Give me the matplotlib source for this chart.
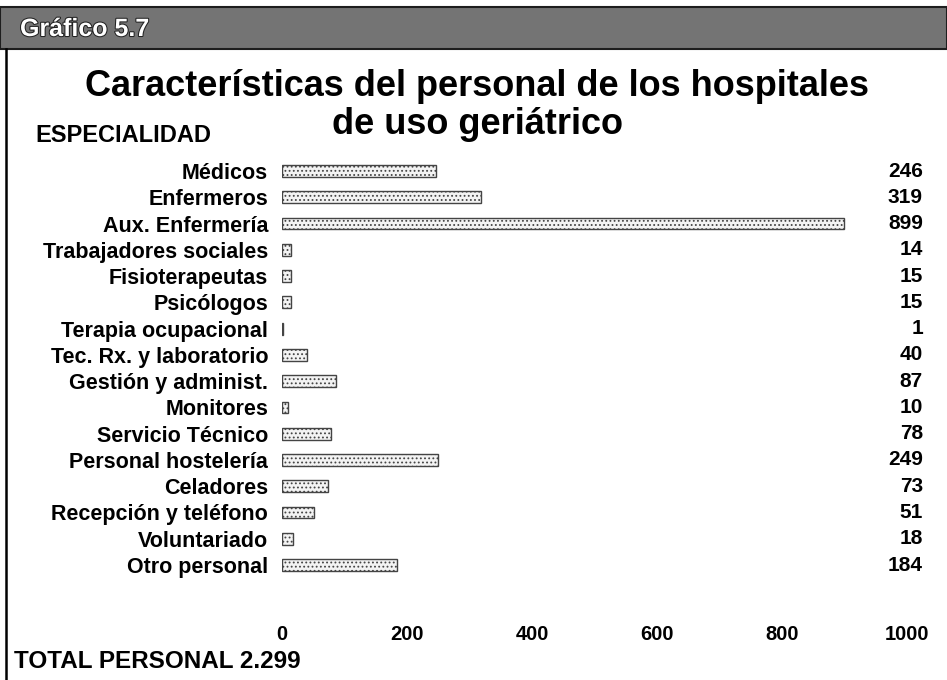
import matplotlib.pyplot as plt
from matplotlib.patches import Rectangle
from matplotlib.lines import Line2D
import matplotlib.transforms as mtransforms
import matplotlib.patheffects as pe

plt.rcParams['font.family'] = ['Liberation Sans', 'DejaVu Sans']
plt.rcParams['hatch.color'] = '#a0a0a0'
plt.rcParams['hatch.linewidth'] = 0.8

# Personal por especialidad
especialidades = [
    'Médicos', 'Enfermeros', 'Aux. Enfermería', 'Trabajadores sociales',
    'Fisioterapeutas', 'Psicólogos', 'Terapia ocupacional',
    'Tec. Rx. y laboratorio', 'Gestión y administ.', 'Monitores',
    'Servicio Técnico', 'Personal hostelería', 'Celadores',
    'Recepción y teléfono', 'Voluntariado', 'Otro personal',
]
personal = [246, 319, 899, 14, 15, 15, 1, 40, 87, 10, 78, 249, 73, 51, 18, 184]
ticks_x = [0, 200, 400, 600, 800, 1000]
total = '2.299'

W, H = 947, 680
fig = plt.figure(figsize=(W / 100, H / 100), dpi=100)

# cabecera gris con el número de gráfico
fig.patches.append(Rectangle((0, 1 - 49 / H), 1, 42 / H, transform=fig.transFigure,
                             facecolor='#747474', edgecolor='#1e1e1e', lw=1.5))
fig.lines.append(Line2D([6 / W, 6 / W], [0, 1 - 49 / H], transform=fig.transFigure,
                        color='black', lw=1.8))
fig.text(20 / W, 1 - 29 / H, 'Gráfico 5.7', color='white', fontsize=18,
         fontweight='bold', va='center', ha='left',
         path_effects=[pe.withStroke(linewidth=1.5, foreground='#222222')])

fig.text(477 / W, 1 - 86 / H, 'Características del personal de los hospitales',
         fontsize=26, fontweight='bold', ha='center', va='center')
fig.text(477 / W, 1 - 124 / H, 'de uso geriátrico',
         fontsize=26, fontweight='bold', ha='center', va='center')
fig.text(35 / W, 1 - 135 / H, 'ESPECIALIDAD', fontsize=17, fontweight='bold',
         ha='left', va='center')
fig.text(14 / W, 1 - 662 / H, f'TOTAL PERSONAL {total}', fontsize=17.5,
         fontweight='bold', ha='left', va='center')

ax = fig.add_axes([282 / W, 1 - 612.3 / H, 625 / W, (612.3 - 157.9) / H])
y = list(range(len(especialidades)))
ax.barh(y, personal, height=0.45, color='#f3f3f3', edgecolor='#444444',
        linewidth=1.0, hatch='....')
ax.set_ylim(16.8, -0.5)
ax.set_xlim(0, 1000)
ax.set_yticks(y)
ax.set_yticklabels(especialidades, fontsize=15.5, fontweight='bold')
ax.set_xticks(ticks_x)
ax.set_xticklabels([str(t) for t in ticks_x], fontsize=14.5, fontweight='bold')
ax.tick_params(axis='y', length=0, pad=10)
ax.tick_params(axis='x', length=0, pad=9)
for s in ax.spines.values():
    s.set_visible(False)

# valores a la derecha
trans = mtransforms.blended_transform_factory(ax.transAxes, ax.transData)
for yi, v in zip(y, personal):
    ax.text((923 - 282) / 625, yi, str(v), transform=trans, ha='right',
            va='center', fontsize=15, fontweight='bold')

fig.savefig('out.png', dpi=100)
